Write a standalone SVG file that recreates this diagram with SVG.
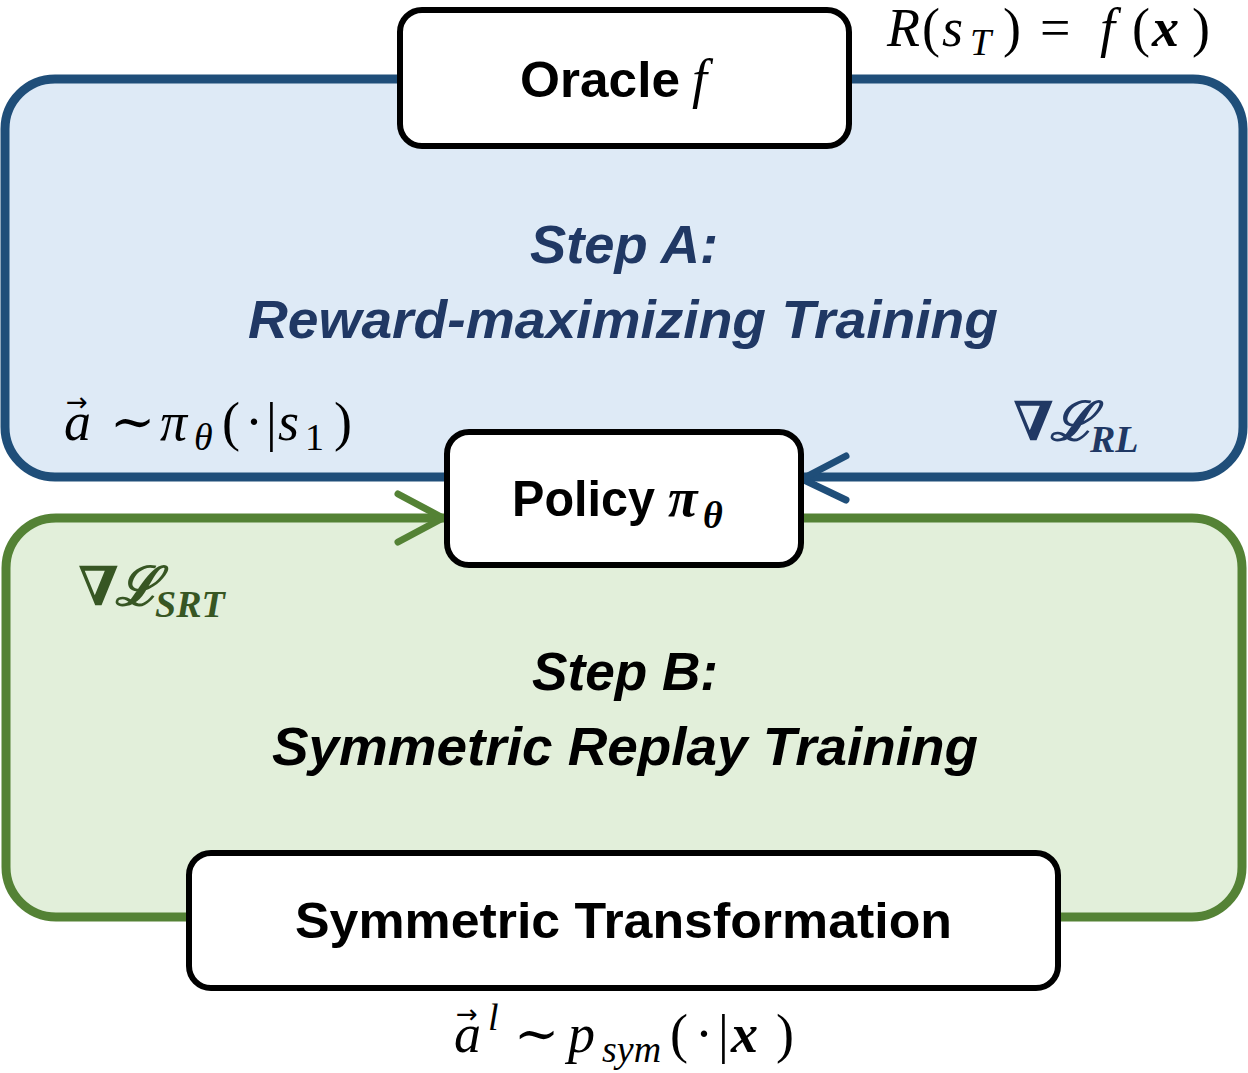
<svg xmlns="http://www.w3.org/2000/svg" width="1248" height="1073" viewBox="0 0 1248 1073">
<style>
.node{fill:#ffffff;stroke:#000000;stroke-width:6}
.lbl{font-family:"Liberation Sans",Arial,sans-serif;font-weight:bold;font-size:50px;fill:#000}
.step{font-family:"Liberation Sans",Arial,sans-serif;font-weight:bold;font-style:italic;font-size:54px}
.math{font-family:"Liberation Serif","DejaVu Serif",serif;font-style:italic;font-size:54px}
.vec{font-family:"DejaVu Sans",sans-serif;font-size:26px;font-style:normal}
.up{font-style:normal}
.bd{font-weight:bold}
.sub{font-size:38px}
.arrow{fill:none;stroke-width:7;stroke-linecap:round;stroke-linejoin:round}
</style>
<rect width="1248" height="1073" fill="#ffffff"/>
<g id="stepA">
<rect x="5" y="79" width="1238" height="398" rx="50" fill="#deeaf6" stroke="#1f4e79" stroke-width="9"/>
<text class="step" x="530" y="263" textLength="188" lengthAdjust="spacingAndGlyphs" fill="#203864">Step A:</text>
<text class="step" x="248" y="338" textLength="750" lengthAdjust="spacingAndGlyphs" fill="#203864">Reward-maximizing Training</text>
</g>
<g id="stepB">
<rect x="6" y="518" width="1236" height="399" rx="50" fill="#e2efda" stroke="#548235" stroke-width="9"/>
<text class="step" x="532" y="690" textLength="186" lengthAdjust="spacingAndGlyphs" fill="#000">Step B:</text>
<text class="step" x="272" y="765" textLength="706" lengthAdjust="spacingAndGlyphs" fill="#000">Symmetric Replay Training</text>
</g>
<g id="connectors">
<polyline class="arrow" stroke="#1f4e79" points="846,456 802,479 846,500"/>
<polyline class="arrow" stroke="#548235" points="398,494 443,518 398,542"/>
</g>
<g id="oracle">
<rect class="node" x="400" y="10" width="449" height="136" rx="22"/>
<text class="lbl" x="520" y="97" textLength="160" lengthAdjust="spacingAndGlyphs">Oracle</text>
<text class="math" x="692" y="97" fill="#000">f</text>
</g>
<g id="policy">
<rect class="node" x="447" y="432" width="354" height="133" rx="22"/>
<text class="lbl" x="512" y="516" textLength="143" lengthAdjust="spacingAndGlyphs">Policy</text>
<text class="math bd" x="668" y="516" fill="#000" font-size="58">π<tspan class="sub" x="703" y="528" font-size="40">θ</tspan></text>
</g>
<g id="symtrans">
<rect class="node" x="189" y="853" width="869" height="135" rx="22"/>
<text class="lbl" x="295" y="938" textLength="657" lengthAdjust="spacingAndGlyphs">Symmetric Transformation</text>
</g>
<g id="labels">
<text class="math" x="887" y="46" fill="#000" font-size="51">R<tspan class="up" x="922">(</tspan><tspan x="942">s</tspan><tspan class="sub" x="970" y="55" font-size="36">T</tspan><tspan class="up" x="1003" y="46">)</tspan><tspan class="up" x="1040">=</tspan><tspan x="1100">f</tspan><tspan class="up" x="1132">(</tspan><tspan class="bd" x="1152">x</tspan><tspan class="up" x="1192">)</tspan></text>
<text class="math" x="64" y="440" fill="#000">a<tspan class="vec" x="66" y="411">→</tspan><tspan class="up" x="110" y="440">∼</tspan><tspan x="160">π</tspan><tspan class="sub" x="194" y="450">θ</tspan><tspan class="up" x="222" y="440">(</tspan><tspan class="up" x="245">·</tspan><tspan class="up" x="266">|</tspan><tspan x="278">s</tspan><tspan class="up sub" x="305" y="450">1</tspan><tspan class="up" x="334" y="440">)</tspan></text>
<text class="math bd" x="1013" y="440" fill="#203864"><tspan class="up">∇</tspan><tspan x="1050">ℒ</tspan><tspan class="sub" x="1090" y="452">RL</tspan></text>
<text class="math bd" x="78" y="605" fill="#375623"><tspan class="up">∇</tspan><tspan x="115">ℒ</tspan><tspan class="sub" x="155" y="617">SRT</tspan></text>
<text class="math" x="454" y="1052" fill="#000">a<tspan class="vec" x="456" y="1023">→</tspan><tspan class="sub" x="488" y="1030">l</tspan><tspan class="up" x="514" y="1052">∼</tspan><tspan x="568">p</tspan><tspan class="sub" x="602" y="1062">sym</tspan><tspan class="up" x="670" y="1052">(</tspan><tspan class="up" x="695">·</tspan><tspan class="up" x="718">|</tspan><tspan class="bd" x="731">x</tspan><tspan class="up" x="776">)</tspan></text>
</g>
</svg>
